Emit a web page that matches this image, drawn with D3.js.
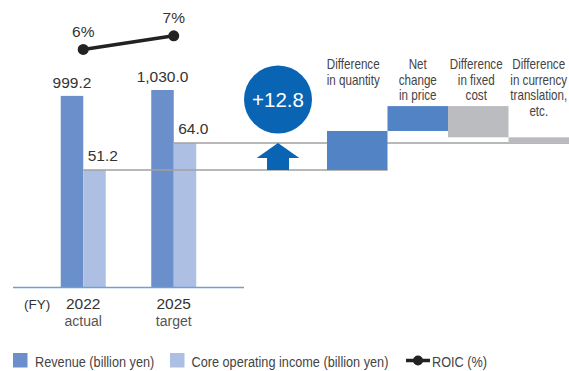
<!DOCTYPE html>
<html><head><meta charset="utf-8">
<script src="https://cdn.jsdelivr.net/npm/d3@7"></script>
<style>
html,body{margin:0;padding:0;background:#fff;}
svg{display:block;}
.num{font-family:"Liberation Sans",Arial,sans-serif;fill:#333;}
.nar{font-family:"Liberation Sans",Arial,sans-serif;fill:#444;}
</style></head>
<body>
<svg id="chart" width="569" height="371"></svg>
<script>
// ---- data ----
const years = ["2022", "2025"];
const yearSub = ["actual", "target"];
const revenue = [999.2, 1030.0];
const revenueLabels = ["999.2", "1,030.0"];
const coreIncome = [51.2, 64.0];
const coreLabels = ["51.2", "64.0"];
const roic = [6, 7];
const roicLabels = ["6%", "7%"];
const stepNames = [["Difference","in quantity"],["Net","change","in price"],["Difference","in fixed","cost"],["Difference","in currency","translation,","etc."]];
const stepValues = [18.5, 11.8, -14.8, -2.7];
const totalChange = "+12.8";
const legendLabels = ["Revenue (billion yen)", "Core operating income (billion yen)", "ROIC (%)"];

const C = {rev:"#6a8fca", core:"#adc0e4", up:"#5183c5", down:"#bbbcc0", dark:"#0a64b4", line:"#a0a0a0", axis:"#6fa0d4", roic:"#222"};
const NARROW = 0.82;

const svg = d3.select("#chart");
const base = 287;

// condensed text helper: regular font compressed horizontally
function narrow(parent, x, y, lines, size, anchor, lh) {
  const g = parent.append("g").attr("transform", `translate(${x},${y}) scale(${NARROW},1)`);
  const t = g.append("text").attr("class","nar").attr("font-size", size).attr("text-anchor", anchor);
  lines.forEach((ln, k) => t.append("tspan").attr("x", 0).attr("dy", k===0 ? 0 : lh).text(ln));
  return t;
}

const x = d3.scaleBand().domain(years).range([38, 219]);
const barW = 22.5;
const yRev = d3.scaleLinear().domain([0, 1030]).range([base, 90]);
const yCore = d3.scaleLinear().domain([-4.3, 64]).range([base, 143]);
const yRoic = d3.scaleLinear().domain([0, 7]).range([131, 35.8]);
const xs = d3.scaleBand().domain(d3.range(stepValues.length)).range([327, 569]);

const y0 = yCore(coreIncome[0]), y1 = yCore(coreIncome[1]);

// bars
svg.selectAll(".rev").data(years).join("rect")
  .attr("x", d => x(d) + x.bandwidth()/2 - barW)
  .attr("y", (d,i) => yRev(revenue[i]))
  .attr("width", barW).attr("height", (d,i) => base - yRev(revenue[i]))
  .attr("fill", C.rev);
svg.selectAll(".core").data(years).join("rect")
  .attr("x", d => x(d) + x.bandwidth()/2)
  .attr("y", (d,i) => yCore(coreIncome[i]))
  .attr("width", barW).attr("height", (d,i) => base - yCore(coreIncome[i]))
  .attr("fill", C.core);

// waterfall
let cum = coreIncome[0];
const steps = stepValues.map((v,i) => { const s = cum; cum += v; return {i, v, s, e: cum}; });
svg.append("line").attr("x1", x(years[0]) + x.bandwidth()/2).attr("x2", xs(1))
  .attr("y1", y0).attr("y2", y0).attr("stroke", C.line).attr("stroke-width", 1.4);
svg.append("line").attr("x1", x(years[1]) + x.bandwidth()/2).attr("x2", 569)
  .attr("y1", y1).attr("y2", y1).attr("stroke", C.line).attr("stroke-width", 1.4);

svg.selectAll(".step").data(steps).join("rect")
  .attr("x", d => xs(d.i)).attr("width", xs.bandwidth())
  .attr("y", d => yCore(Math.max(d.s, d.e)))
  .attr("height", d => Math.abs(yCore(d.s) - yCore(d.e)))
  .attr("fill", d => d.v >= 0 ? C.up : C.down);

// step labels
const labelShift = [-4, 0, -2, 0];
steps.forEach(d => narrow(svg, xs(d.i) + xs.bandwidth()/2 + labelShift[d.i], 69, stepNames[d.i], 14.2, "middle", 15.6));

// axis line
svg.append("line").attr("x1", 13).attr("x2", 244).attr("y1", base+0.5).attr("y2", base+0.5)
  .attr("stroke", C.axis).attr("stroke-width", 1.5);

// arrow + circle
const ax = 278;
const arrow = [[ax, y1], [ax+21.3, y1+15], [ax+11, y1+15], [ax+11, y0], [ax-11, y0], [ax-11, y1+15], [ax-21.3, y1+15]];
svg.append("path").attr("d", d3.line()(arrow) + "Z").attr("fill", C.dark);
svg.append("circle").attr("cx", ax).attr("cy", 99.5).attr("r", 34).attr("fill", C.dark);
svg.append("text").attr("class","num").attr("x", ax).attr("y", 106.5).attr("text-anchor","middle")
  .attr("font-size", 20.5).style("fill","#fff").text(totalChange);

// value labels
svg.selectAll(".revl").data(years).join("text").attr("class","num")
  .attr("x", d => x(d) + x.bandwidth()/2 - barW/2).attr("y", (d,i) => yRev(revenue[i]) - 8)
  .attr("text-anchor","middle").attr("font-size", 15.5).text((d,i) => revenueLabels[i]);
svg.selectAll(".corel").data(years).join("text").attr("class","num")
  .attr("x", d => x(d) + x.bandwidth()/2 + 4.5).attr("y", (d,i) => yCore(coreIncome[i]) - 9)
  .attr("text-anchor","start").attr("font-size", 15.5).text((d,i) => coreLabels[i]);

// ROIC line
const rl = d3.line().x((d,i) => x(years[i]) + x.bandwidth()/2).y(d => yRoic(d));
svg.append("path").attr("d", rl(roic)).attr("fill","none").attr("stroke", C.roic).attr("stroke-width", 3.5);
svg.selectAll(".rd").data(roic).join("circle")
  .attr("cx", (d,i) => x(years[i]) + x.bandwidth()/2).attr("cy", d => yRoic(d)).attr("r", 5.5).attr("fill", C.roic);
svg.selectAll(".rt").data(roic).join("text").attr("class","num")
  .attr("x", (d,i) => x(years[i]) + x.bandwidth()/2).attr("y", d => yRoic(d) - 12.5)
  .attr("text-anchor","middle").attr("font-size", 15.5).text((d,i) => roicLabels[i]);

// category labels
svg.append("text").attr("class","num").attr("x", 24).attr("y", 309).attr("font-size", 13.5).text("(FY)");
svg.selectAll(".yr").data(years).join("text").attr("class","num")
  .attr("x", d => x(d) + x.bandwidth()/2).attr("y", 309).attr("text-anchor","middle")
  .attr("font-size", 15.5).text(d => d);
svg.selectAll(".ys").data(years).join("text").attr("class","num")
  .attr("x", d => x(d) + x.bandwidth()/2).attr("y", 325.5).attr("text-anchor","middle")
  .attr("font-size", 14).style("fill","#555").text((d,i) => yearSub[i]);

// legend
const lg = svg.append("g");
lg.append("rect").attr("x", 13).attr("y", 353).attr("width", 14.5).attr("height", 14.5).attr("fill", C.rev);
narrow(lg, 35, 366.5, [legendLabels[0]], 15.5, "start", 0);
lg.append("rect").attr("x", 170).attr("y", 353).attr("width", 14.5).attr("height", 14.5).attr("fill", C.core);
narrow(lg, 191.5, 366.5, [legendLabels[1]], 15.5, "start", 0);
lg.append("line").attr("x1", 406).attr("x2", 430).attr("y1", 360.5).attr("y2", 360.5).attr("stroke", C.roic).attr("stroke-width", 3.5);
lg.append("circle").attr("cx", 418).attr("cy", 360.5).attr("r", 5).attr("fill", C.roic);
narrow(lg, 432, 366.5, [legendLabels[2]], 15.5, "start", 0);
</script>
</body></html>
